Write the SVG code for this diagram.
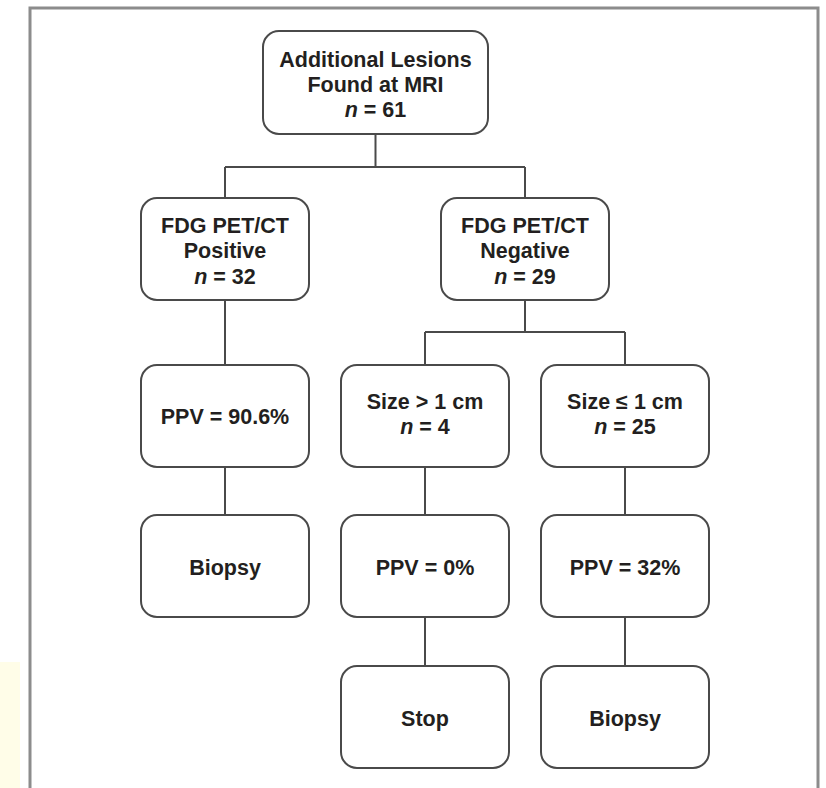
<svg xmlns="http://www.w3.org/2000/svg" width="826" height="788" viewBox="0 0 826 788">
<style>
.box{fill:#fff;stroke:#4a4a4a;stroke-width:2}
.t{font-family:"Liberation Sans",Arial,sans-serif;font-weight:bold;font-size:21.5px;fill:#231f20;text-anchor:middle}
.i{font-style:italic}
.c{fill:none;stroke:#4a4a4a;stroke-width:2}
</style>
<rect x="0" y="0" width="826" height="788" fill="#fff"/>
<rect x="0" y="662" width="20" height="126" fill="#fffde8"/>
<rect x="30" y="8" width="788" height="800" fill="none" stroke="#8c8c8c" stroke-width="3"/>
<g id="connectors" class="c">
<path d="M375.5 134V167M225 167H525M225 167V198M525 167V198"/>
<path d="M225 300V365"/>
<path d="M525 300V332M425 332H625M425 332V365M625 332V365"/>
<path d="M225 467V515M425 467V515M625 467V515"/>
<path d="M425 617V666M625 617V666"/>
</g>
<g id="n-top"><rect class="box" x="263" y="31" width="225" height="103" rx="16"/>
<text class="t" x="375.5" y="67">Additional Lesions</text>
<text class="t" x="375.5" y="92">Found at MRI</text>
<text class="t" x="375.5" y="117"><tspan class="i">n</tspan> = 61</text></g>
<g id="n-pos"><rect class="box" x="141" y="198" width="168" height="102" rx="16"/>
<text class="t" x="225" y="233">FDG PET/CT</text>
<text class="t" x="225" y="258">Positive</text>
<text class="t" x="225" y="284"><tspan class="i">n</tspan> = 32</text></g>
<g id="n-neg"><rect class="box" x="441" y="198" width="168" height="102" rx="16"/>
<text class="t" x="525" y="233">FDG PET/CT</text>
<text class="t" x="525" y="258">Negative</text>
<text class="t" x="525" y="284"><tspan class="i">n</tspan> = 29</text></g>
<g id="n-ppv906"><rect class="box" x="141" y="365" width="168" height="102" rx="16"/>
<text class="t" x="225" y="424">PPV = 90.6%</text></g>
<g id="n-gt1"><rect class="box" x="341" y="365" width="168" height="102" rx="16"/>
<text class="t" x="425" y="409">Size &gt; 1 cm</text>
<text class="t" x="425" y="434"><tspan class="i">n</tspan> = 4</text></g>
<g id="n-le1"><rect class="box" x="541" y="365" width="168" height="102" rx="16"/>
<text class="t" x="625" y="409">Size ≤ 1 cm</text>
<text class="t" x="625" y="434"><tspan class="i">n</tspan> = 25</text></g>
<g id="n-biopsy1"><rect class="box" x="141" y="515" width="168" height="102" rx="16"/>
<text class="t" x="225" y="575">Biopsy</text></g>
<g id="n-ppv0"><rect class="box" x="341" y="515" width="168" height="102" rx="16"/>
<text class="t" x="425" y="575">PPV = 0%</text></g>
<g id="n-ppv32"><rect class="box" x="541" y="515" width="168" height="102" rx="16"/>
<text class="t" x="625" y="575">PPV = 32%</text></g>
<g id="n-stop"><rect class="box" x="341" y="666" width="168" height="102" rx="16"/>
<text class="t" x="425" y="726">Stop</text></g>
<g id="n-biopsy2"><rect class="box" x="541" y="666" width="168" height="102" rx="16"/>
<text class="t" x="625" y="726">Biopsy</text></g>
</svg>
